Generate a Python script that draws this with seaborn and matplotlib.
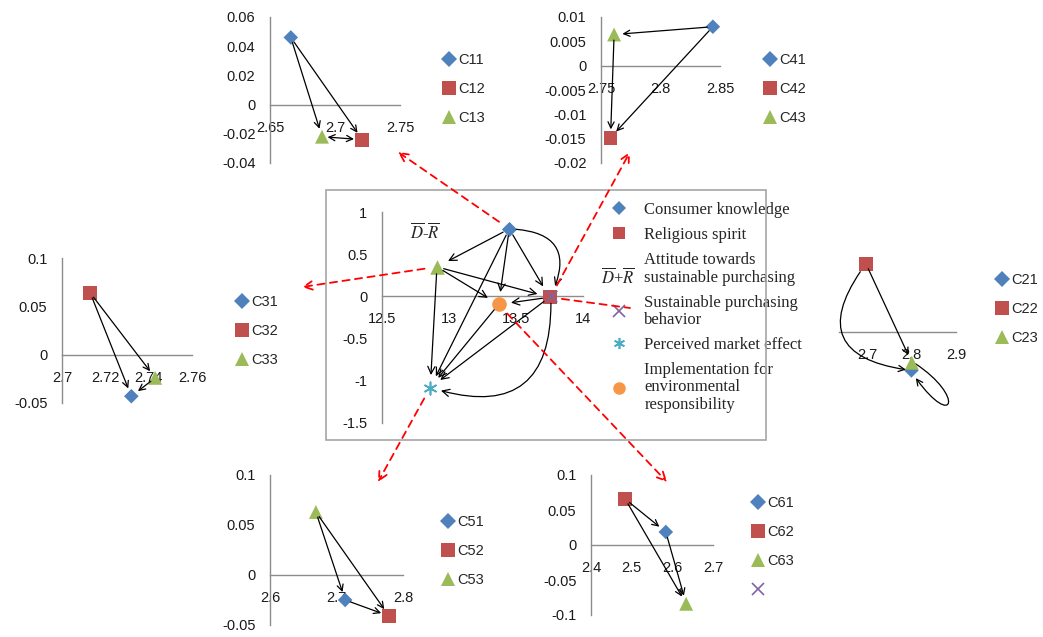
import matplotlib
matplotlib.use("Agg")
import matplotlib.pyplot as plt
import pandas as pd
import seaborn as sns
from matplotlib.lines import Line2D
from matplotlib.patches import ConnectionPatch, FancyArrowPatch, Rectangle
from matplotlib.path import Path
from matplotlib.ticker import FuncFormatter

W, H = 1043, 637

# central chart: D+R / D-R of the six dimensions
dim_labels = [
    "Consumer knowledge",
    "Religious spirit",
    "Attitude towards\nsustainable purchasing",
    "Sustainable purchasing\nbehavior",
    "Perceived market effect",
    "Implementation for\nenvironmental\nresponsibility",
]
dim_d_plus_r = [13.45, 13.75, 12.91, 13.76, 12.86, 13.37]
dim_d_minus_r = [0.80, -0.01, 0.35, 0.00, -1.08, -0.095]
dim_xticks = [12.5, 13, 13.5, 14]
dim_yticks = [-1.5, -1, -0.5, 0, 0.5, 1]
dim_links = [(0, 2), (0, 5), (0, 1), (0, 4), (2, 5), (2, 1), (2, 4), (1, 5), (1, 4), (5, 4)]
dim_curved_links = [(0, 3, -0.75), (3, 4, -0.7)]

# criteria of each dimension
c1_labels = ["C11", "C12", "C13"]
c1_x = [2.666, 2.721, 2.690]
c1_y = [0.046, -0.024, -0.022]
c1_xticks = [2.65, 2.7, 2.75]
c1_yticks = [-0.04, -0.02, 0, 0.02, 0.04, 0.06]
c1_links = [(0, 2, "->"), (0, 1, "->"), (2, 1, "<->")]

c2_labels = ["C21", "C22", "C23"]
c2_x = [2.799, 2.696, 2.800]
c2_y = [-0.040, 0.071, -0.032]
c2_xticks = [2.7, 2.8, 2.9]
c2_links = [(1, 2, "->")]

c3_labels = ["C31", "C32", "C33"]
c3_x = [2.732, 2.713, 2.743]
c3_y = [-0.043, 0.064, -0.024]
c3_xticks = [2.7, 2.72, 2.74, 2.76]
c3_yticks = [-0.05, 0, 0.05, 0.1]
c3_links = [(1, 0, "->"), (1, 2, "->"), (2, 0, "->")]

c4_labels = ["C41", "C42", "C43"]
c4_x = [2.844, 2.758, 2.761]
c4_y = [0.008, -0.0148, 0.0064]
c4_xticks = [2.75, 2.8, 2.85]
c4_yticks = [-0.02, -0.015, -0.01, -0.005, 0, 0.005, 0.01]
c4_links = [(0, 2, "->"), (0, 1, "->"), (2, 1, "->")]

c5_labels = ["C51", "C52", "C53"]
c5_x = [2.713, 2.779, 2.669]
c5_y = [-0.025, -0.041, 0.063]
c5_xticks = [2.6, 2.7, 2.8]
c5_yticks = [-0.05, 0, 0.05, 0.1]
c5_links = [(2, 0, "->"), (2, 1, "->"), (0, 1, "->")]

c6_labels = ["C61", "C62", "C63"]
c6_x = [2.584, 2.484, 2.634]
c6_y = [0.0186, 0.0657, -0.084]
c6_xticks = [2.4, 2.5, 2.6, 2.7]
c6_yticks = [-0.1, -0.05, 0, 0.05, 0.1]
c6_links = [(1, 0, "->"), (1, 2, "->"), (0, 2, "->")]

COLORS = ["#4F81BD", "#C0504D", "#9BBB59", "#8064A2", "#4BACC6", "#F79646"]
DIM_MARKERS = ["D", "s", "^", "x", (6, 2, 0), "o"]
SUB_MARKERS = ["D", "s", "^"]
SUB_SIZES = [55, 100, 100]
GREY = "#8c8c8c"

sns.set_style("white")
plt.rcParams["font.family"] = ["Liberation Sans", "DejaVu Sans"]
plt.rcParams["mathtext.fontset"] = "stix"

fig = plt.figure(figsize=(W / 100, H / 100), dpi=100)


def px_axes(left, top, right, bottom):
    return fig.add_axes([left / W, 1 - bottom / H, (right - left) / W, (bottom - top) / H])


def fmt(v, _):
    if abs(v) < 1e-9:
        return "0"
    return f"{round(v, 6):g}"


def style_axes(ax, xlim, ylim, xticks, yticks):
    ax.set_xlim(xlim)
    ax.set_ylim(ylim)
    ax.set_xticks(xticks)
    ax.set_yticks(yticks)
    ax.xaxis.set_major_formatter(FuncFormatter(fmt))
    ax.yaxis.set_major_formatter(FuncFormatter(fmt))
    ax.spines["top"].set_visible(False)
    ax.spines["right"].set_visible(False)
    ax.spines["bottom"].set_position(("data", 0))
    for side in ("left", "bottom"):
        ax.spines[side].set_color(GREY)
        ax.spines[side].set_linewidth(1)
    ax.tick_params(direction="out", length=3.5, width=1, color=GREY,
                   labelsize=10.5, labelcolor="#1a1a1a")
    ax.tick_params(axis="x", pad=8)
    ax.tick_params(axis="y", pad=7)
    ax.patch.set_alpha(0)
    ax.set_xlabel("")
    ax.set_ylabel("")
    if not yticks:
        ax.spines["left"].set_visible(False)
        ax.tick_params(axis="y", length=0)


def link(ax, p, q, style="->", rad=0.0, shrink_a=4, shrink_b=6, scale=11):
    ax.annotate("", xy=q, xytext=p, annotation_clip=False,
                arrowprops=dict(arrowstyle=style, color="black", lw=0.9,
                                shrinkA=shrink_a, shrinkB=shrink_b, mutation_scale=scale,
                                connectionstyle=f"arc3,rad={rad}"))


def sub_legend(ax, labels, colors, markers, left, top):
    handles = [Line2D([], [], linestyle="none", marker=m, color=c, markersize=s,
                      markeredgewidth=1.2 if m == "x" else 0)
               for m, c, s in zip(markers, colors, [8, 10, 10, 9])]
    ax.legend(handles, labels, loc="upper left", frameon=False,
              bbox_to_anchor=(left / W, 1 - top / H), bbox_transform=fig.transFigure,
              borderpad=0, borderaxespad=0, handlelength=0.8, handletextpad=0.25,
              labelspacing=1.02, fontsize=10.5)


def sub_panel(labels, xs, ys, links, box, xlim, ylim, xticks, yticks, legend_at, extra=None):
    ax = px_axes(*box)
    df = pd.DataFrame({"x": xs, "y": ys, "item": labels})
    sns.scatterplot(data=df, x="x", y="y", hue="item", style="item", size="item",
                    palette=COLORS[:3], markers=SUB_MARKERS,
                    sizes=dict(zip(labels, SUB_SIZES)), linewidth=0,
                    legend=False, ax=ax, clip_on=False, zorder=3)
    style_axes(ax, xlim, ylim, xticks, yticks)
    for a, b, style in links:
        link(ax, (xs[a], ys[a]), (xs[b], ys[b]), style=style)
    leg_labels, leg_colors, leg_markers = list(labels), COLORS[:3], SUB_MARKERS
    if extra:
        leg_labels = leg_labels + [""]
        leg_colors = leg_colors + [COLORS[3]]
        leg_markers = leg_markers + ["x"]
    sub_legend(ax, leg_labels, leg_colors, leg_markers, *legend_at)
    return ax


# ---- central chart ----
ax_main = px_axes(382, 212, 583, 423)
for i in range(len(dim_labels)):
    filled = DIM_MARKERS[i] != "x" and not isinstance(DIM_MARKERS[i], tuple)
    sns.scatterplot(x=[dim_d_plus_r[i]], y=[dim_d_minus_r[i]], marker=DIM_MARKERS[i],
                    color=COLORS[i], s=[60, 110, 110, 70, 80, 110][i],
                    linewidth=0 if filled else 1.2, ax=ax_main, zorder=3, clip_on=False)
style_axes(ax_main, (12.5, 14), (-1.5, 1), dim_xticks, dim_yticks)
pts = list(zip(dim_d_plus_r, dim_d_minus_r))
for a, b in dim_links:
    link(ax_main, pts[a], pts[b], shrink_a=5, shrink_b=9, scale=13)
for a, b, rad in dim_curved_links:
    link(ax_main, pts[a], pts[b], rad=rad, shrink_a=5, shrink_b=8, scale=13)

handles = [Line2D([], [], linestyle="none", marker=m, color=c,
                  markersize=s, markeredgewidth=1.2 if m == "x" or isinstance(m, tuple) else 0)
           for m, c, s in zip(DIM_MARKERS, COLORS, [7, 9, 9, 8, 8, 9])]
leg = ax_main.legend(handles, dim_labels, loc="upper left", frameon=False,
                     bbox_to_anchor=(611 / W, 1 - 202 / H), bbox_transform=fig.transFigure,
                     borderpad=0, borderaxespad=0, handlelength=1.0, handletextpad=1.0,
                     labelspacing=0.55, prop={"family": "Liberation Serif", "size": 12})
for t in leg.get_texts():
    t.set_linespacing(1.1)

fig.text(410 / W, 1 - 232 / H, r"$\overline{D}$-$\overline{R}$", fontsize=12,
         family="Liberation Serif", va="center")
fig.text(601 / W, 1 - 277 / H, r"$\overline{D}$+$\overline{R}$", fontsize=12,
         family="Liberation Serif", va="center", zorder=5,
         bbox=dict(facecolor="white", edgecolor="none", pad=3.5))
fig.add_artist(Rectangle((326 / W, 1 - 440 / H), (766 - 326) / W, (440 - 190) / H,
                         transform=fig.transFigure, fill=False, edgecolor="#a6a6a6", lw=1.2))

# ---- criteria panels ----
ax_c1 = sub_panel(c1_labels, c1_x, c1_y, c1_links, (270, 17, 400, 163),
                  (2.65, 2.75), (-0.04, 0.06), c1_xticks, c1_yticks, (443, 53))
ax_c4 = sub_panel(c4_labels, c4_x, c4_y, c4_links, (601, 17, 720, 163),
                  (2.75, 2.85), (-0.02, 0.01), c4_xticks, c4_yticks, (764, 53))
ax_c3 = sub_panel(c3_labels, c3_x, c3_y, c3_links, (62, 258, 192, 403),
                  (2.7, 2.76), (-0.05, 0.1), c3_xticks, c3_yticks, (236, 295))
ax_c2 = sub_panel(c2_labels, c2_x, c2_y, c2_links, (839, 258, 956, 430),
                  (2.635, 2.9), (-0.102, 0.077), c2_xticks, [], (996, 273))
ax_c5 = sub_panel(c5_labels, c5_x, c5_y, c5_links, (270, 475, 403, 625),
                  (2.6, 2.8), (-0.05, 0.1), c5_xticks, c5_yticks, (442, 515))
ax_c6 = sub_panel(c6_labels, c6_x, c6_y, c6_links, (591, 475, 713, 615),
                  (2.4, 2.7), (-0.1, 0.1), c6_xticks, c6_yticks, (752, 496), extra=True)

# C22 -> C21 bends round the left, C23 -> C21 loops out to the lower right
link(ax_c2, (c2_x[1], c2_y[1]), (c2_x[0], c2_y[0]), rad=0.85, shrink_a=7, shrink_b=4)
loop = Path([(c2_x[2] + 0.008, c2_y[2] - 0.001),
             (c2_x[2] + 0.120, c2_y[2] - 0.035),
             (c2_x[2] + 0.095, c2_y[2] - 0.070),
             (c2_x[0] + 0.010, c2_y[0] - 0.008)],
            [Path.MOVETO, Path.CURVE4, Path.CURVE4, Path.CURVE4])
ax_c2.add_patch(FancyArrowPatch(path=loop, arrowstyle="->", mutation_scale=11,
                                color="black", lw=0.9, clip_on=False))

# red dashed pointers from the dimensions to their criteria panels
pointers = [(0, 398, 152, "->"), (3, 630, 152, "->"), (2, 302, 287, "->"),
            (1, 630, 308, "-"), (4, 378, 482, "->"), (5, 667, 482, "->")]
for i, ex, ey, style in pointers:
    con = ConnectionPatch(xyA=pts[i], coordsA=ax_main.transData,
                          xyB=(ex, H - ey), coordsB="figure pixels",
                          arrowstyle=style, linestyle=(0, (4, 3)), color="#ff0000",
                          lw=1.3, mutation_scale=15, shrinkA=9, shrinkB=0)
    fig.add_artist(con)

fig.savefig("out.png", dpi=100)
